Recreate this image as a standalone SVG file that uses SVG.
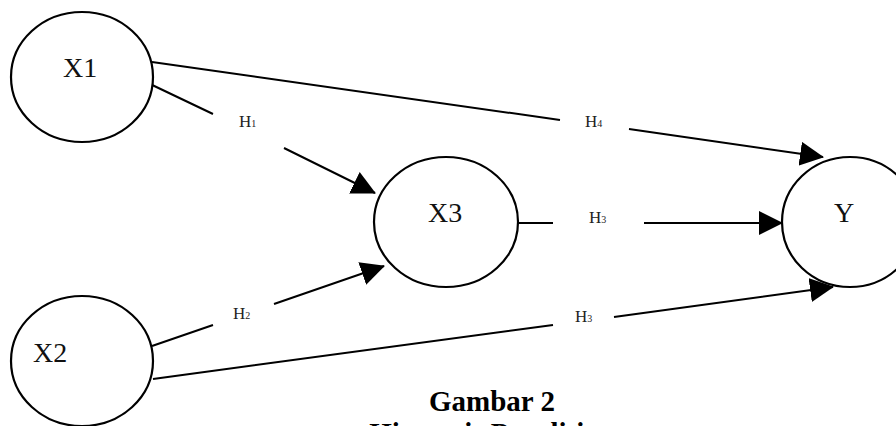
<svg xmlns="http://www.w3.org/2000/svg" width="896" height="426" viewBox="0 0 896 426">
<style>
.node{fill:#fff;stroke:#000;stroke-width:2.2}
.lbl{font-family:"Liberation Serif",serif;font-size:28px;fill:#111}
.h{font-family:"Liberation Serif",serif;font-size:17px;fill:#222}
.h tspan{font-size:10px}
.conn{fill:none;stroke:#000;stroke-width:2}
.cap{font-family:"Liberation Serif",serif;font-size:29px;font-weight:bold;fill:#000;text-anchor:middle}
</style>
<defs>
<marker id="arr" markerUnits="userSpaceOnUse" markerWidth="24" markerHeight="24" viewBox="0 0 24 24" refX="23" refY="12" orient="auto">
<path d="M0,0 L24,12 L0,24 Z" fill="#000"/>
</marker>
</defs>
<rect width="896" height="426" fill="#fff"/>
<g id="connectors">
<path class="conn" d="M152,62 L560,120 M629,129 L823,157" marker-end="url(#arr)"/>
<path class="conn" d="M148,83 L213,114 M284,148 L375,193" marker-end="url(#arr)"/>
<path class="conn" d="M152,346 L213,325 M274,304 L384,266" marker-end="url(#arr)"/>
<path class="conn" d="M153,379 L553,325 M614,317 L833,287" marker-end="url(#arr)"/>
<path class="conn" d="M517,223 L553,223 M644,223 L782,223" marker-end="url(#arr)"/>
</g>
<g id="labels">
<text class="h" x="239" y="127">H<tspan>1</tspan></text>
<text class="h" x="233" y="319">H<tspan>2</tspan></text>
<text class="h" x="589" y="223">H<tspan>3</tspan></text>
<text class="h" x="575" y="322">H<tspan>3</tspan></text>
<text class="h" x="585" y="127">H<tspan>4</tspan></text>
</g>
<g id="X1"><ellipse class="node" cx="82" cy="77" rx="71" ry="65"/><text class="lbl" x="63" y="77">X1</text></g>
<g id="X2"><ellipse class="node" cx="82" cy="361" rx="71" ry="65"/><text class="lbl" x="33" y="362">X2</text></g>
<g id="X3"><ellipse class="node" cx="446" cy="222" rx="72" ry="65"/><text class="lbl" x="428" y="222">X3</text></g>
<g id="Y"><ellipse class="node" cx="850" cy="222" rx="68" ry="65"/><text class="lbl" x="834" y="222">Y</text></g>
<g id="caption">
<text class="cap" x="492" y="411">Gambar 2</text>
<text class="cap" x="492" y="443">Hipotesis Penelitian</text>
</g>
</svg>
